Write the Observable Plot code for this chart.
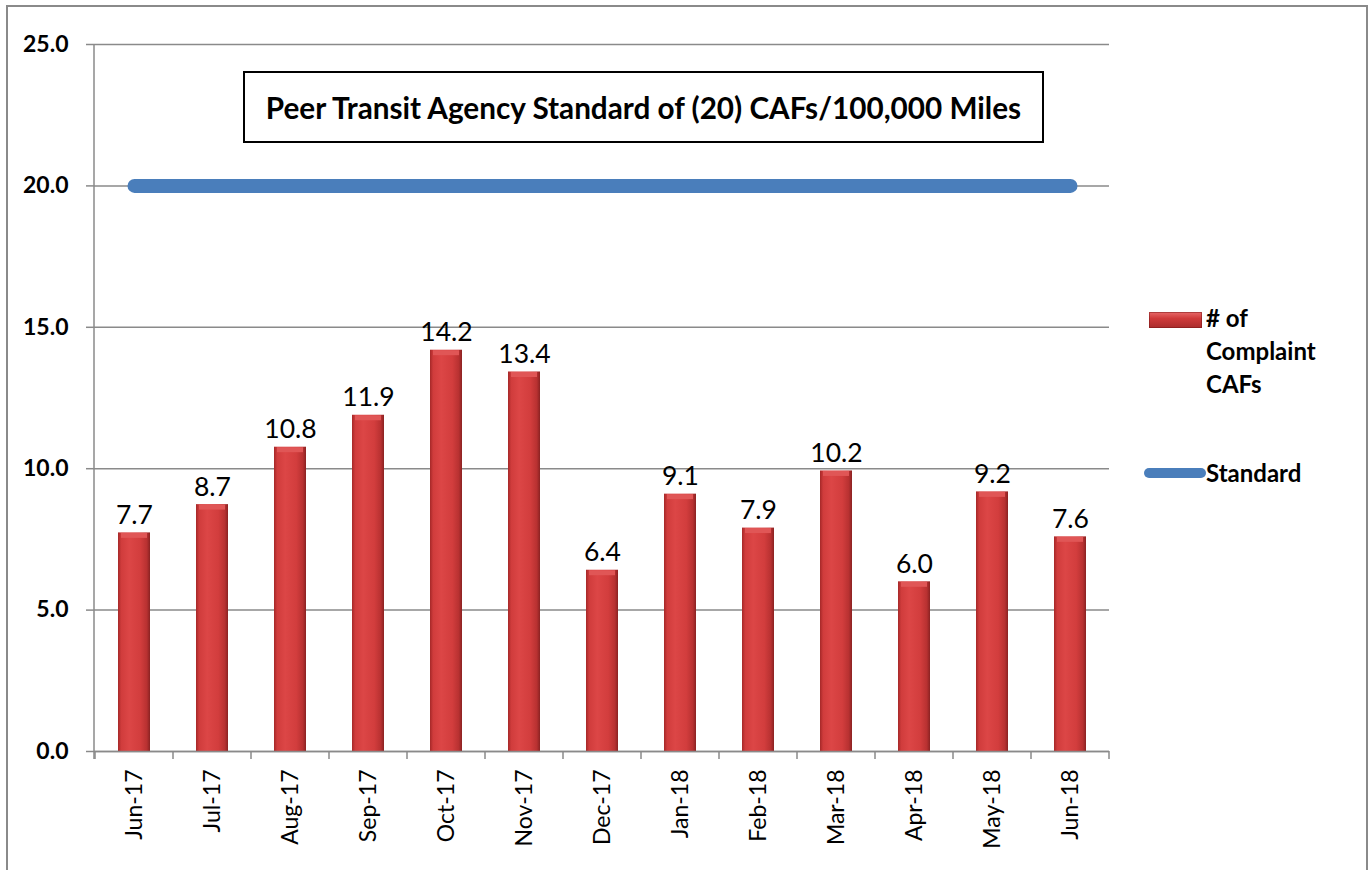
<!DOCTYPE html>
<html><head><meta charset="utf-8">
<script src="https://cdn.jsdelivr.net/npm/d3@7"></script>
<script src="https://cdn.jsdelivr.net/npm/@observablehq/plot@0.6"></script>
<style>
html,body{margin:0;padding:0;background:#fff;overflow:hidden;}
#wrap{position:relative;width:1370px;height:870px;overflow:hidden;font-family:Lato,sans-serif;color:#000;}
#frame{position:absolute;left:6px;top:5px;width:1362px;height:900px;border:2px solid #8a8a8a;box-sizing:border-box;}
#chart{position:absolute;left:0;top:0;}
#title{position:absolute;left:243px;top:71px;width:801px;height:72px;border:2px solid #000;box-sizing:border-box;display:flex;align-items:center;justify-content:center;font-weight:700;font-size:29.7px;background:#fff;white-space:nowrap;}
.leg{position:absolute;font-weight:700;font-size:24px;line-height:33px;white-space:nowrap;}
#swRed{position:absolute;left:1149px;top:312px;width:53px;height:16px;background:linear-gradient(180deg,#e86a6a 0%,#cf3b3b 40%,#a92c2c 100%);box-shadow:inset 0 0 0 1px rgba(120,20,20,0.5);}
#swBlue{position:absolute;left:1144px;top:468px;width:62px;height:10px;border-radius:5px;background:#4a7ebb;}
svg [aria-label="y-axis tick label"] text{font-weight:700;}
</style>
</head><body>
<div id="wrap">
  <div id="frame"></div>
  <div id="chart"></div>
  <div id="title">Peer Transit Agency Standard of (20) CAFs/100,000 Miles</div>
  <div id="swRed"></div>
  <div class="leg" style="left:1206px;top:301px;"># of<br>Complaint<br>CAFs</div>
  <div id="swBlue"></div>
  <div class="leg" style="left:1206px;top:456px;">Standard</div>
</div>
<script>
const months = ["Jun-17","Jul-17","Aug-17","Sep-17","Oct-17","Nov-17","Dec-17","Jan-18","Feb-18","Mar-18","Apr-18","May-18","Jun-18"];
const cafs = [7.73, 8.73, 10.76, 11.89, 14.19, 13.42, 6.41, 9.1, 7.9, 9.92, 6.0, 9.18, 7.59];
const cafLabels = ["7.7","8.7","10.8","11.9","14.2","13.4","6.4","9.1","7.9","10.2","6.0","9.2","7.6"];
const standard = [20,20,20,20,20,20,20,20,20,20,20,20,20];
const yTicks = [0,5,10,15,20,25];

const data = months.map((m,i)=>({month:m, v:cafs[i], label:cafLabels[i], std:standard[i]}));

const defs = () => {
  const d = d3.create("svg:defs");
  const g = d.append("linearGradient").attr("id","barGrad").attr("x1","0").attr("x2","1").attr("y1","0").attr("y2","0");
  [[0,"#a52828"],[0.1,"#d03c3c"],[0.35,"#dc4646"],[0.7,"#d23d3d"],[0.9,"#b83131"],[1,"#8a2222"]]
    .forEach(([o,c])=>g.append("stop").attr("offset",o).attr("stop-color",c));
  return d.node();
};

const xTicks = (index, scales, values, dims) => {
  const x = scales.x;
  const step = typeof x.step === "function" ? x.step() : (x(months[1]) - x(months[0]));
  const bw = typeof x.bandwidth === "function" ? x.bandwidth() : (x.bandwidth || 0);
  const y0 = dims.height - dims.marginBottom;
  const g = d3.create("svg:g").attr("stroke","#8a8a8a").attr("stroke-width",1.5);
  const bounds = months.map(m => x(m) + bw/2 - step/2);
  bounds.push(bounds[bounds.length-1] + step);
  bounds.forEach(b => g.append("line").attr("x1",b).attr("x2",b).attr("y1",y0).attr("y2",y0+8));
  g.append("line").attr("x1",dims.marginLeft).attr("x2",dims.marginLeft).attr("y1",dims.marginTop).attr("y2",y0+8);
  return g.node();
};

const chart = Plot.plot({
  width:1370, height:870,
  marginLeft:94, marginRight:261, marginTop:44, marginBottom:119,
  style:{fontFamily:"Lato, sans-serif", background:"transparent", overflow:"visible", color:"#000"},
  x:{domain:months, paddingInner:0.59, paddingOuter:0.295, align:0.5, label:null},
  y:{domain:[0,25], label:null},
  marks:[
    defs,
    Plot.gridY(yTicks,{stroke:"#8a8a8a", strokeOpacity:1, strokeWidth:1.5}),
    Plot.barY(data,{x:"month", y:"v", fill:"url(#barGrad)"}),
    Plot.tickY(data,{x:"month", y:"v", stroke:"#e05656", strokeWidth:5, dy:2.5, insetLeft:3, insetRight:3}),
    Plot.ruleY([0],{stroke:"#8a8a8a", strokeWidth:1.5}),
    Plot.lineY(data,{x:"month", y:"std", stroke:"#4a7ebb", strokeWidth:14, strokeLinecap:"round"}),
    xTicks,
    Plot.text(data,{x:"month", y:"v", text:"label", dy:-9, lineAnchor:"bottom", fontSize:26.5, fill:"#000"}),
    Plot.axisY(yTicks,{tickSize:8, tickPadding:18, tickFormat:d=>d.toFixed(1), fontSize:23, fontWeight:700, stroke:"#8a8a8a", strokeWidth:1.5, strokeOpacity:1, fill:"#000", label:null}),
    Plot.axisX({tickSize:0, tickPadding:18, tickRotate:-90, fontSize:23, fill:"#000", label:null})
  ]
});
document.getElementById("chart").appendChild(chart);
</script>
</body></html>
